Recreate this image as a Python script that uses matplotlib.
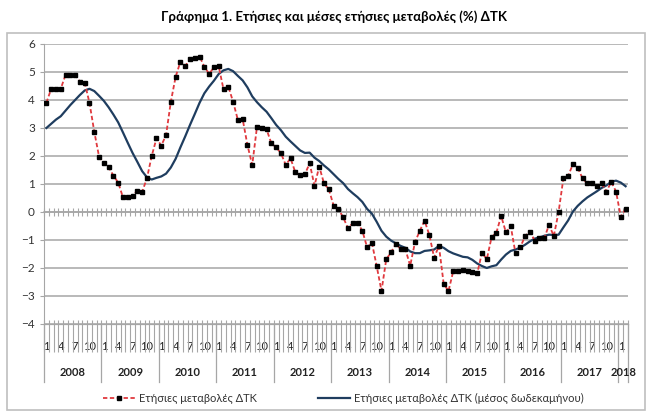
import numpy as np
import matplotlib
matplotlib.use("Agg")
import matplotlib.pyplot as plt
from matplotlib.patches import Rectangle
import matplotlib.transforms as mtransforms

plt.rcParams['font.family'] = ['Lato', 'DejaVu Sans']

# Data: monthly, Jan 2008 - Feb 2018
years = ['2008', '2009', '2010', '2011', '2012', '2013', '2014', '2015', '2016', '2017', '2018']
months_per_year = [12, 12, 12, 12, 12, 12, 12, 12, 12, 12, 2]
month_labels = ['1', '4', '7', '10']

annual_cpi = [
    3.9, 4.4, 4.4, 4.4, 4.9, 4.9, 4.9, 4.65, 4.62, 3.9, 2.87, 1.98,
    1.76, 1.6, 1.3, 1.05, 0.52, 0.52, 0.58, 0.76, 0.72, 1.2, 2.0, 2.63,
    2.37, 2.75, 3.94, 4.83, 5.37, 5.21, 5.46, 5.5, 5.55, 5.19, 4.93, 5.17,
    5.2, 4.38, 4.48, 3.94, 3.29, 3.32, 2.39, 1.68, 3.05, 3.0, 2.95, 2.45,
    2.31, 2.1, 1.68, 1.92, 1.42, 1.32, 1.35, 1.74, 0.94, 1.62, 1.02, 0.81,
    0.23, 0.1, -0.19, -0.58, -0.4, -0.38, -0.67, -1.26, -1.10, -1.93, -2.82, -1.69,
    -1.44, -1.14, -1.32, -1.33, -1.92, -1.08, -0.67, -0.31, -0.82, -1.63, -1.21, -2.57,
    -2.82, -2.11, -2.10, -2.07, -2.12, -2.13, -2.19, -1.45, -1.69, -0.90, -0.74, -0.14,
    -0.73, -0.50, -1.48, -1.26, -0.86, -0.70, -1.02, -0.94, -0.94, -0.46, -0.86, 0.0,
    1.20, 1.29, 1.71, 1.58, 1.20, 1.02, 1.02, 0.93, 1.02, 0.73, 1.08, 0.73,
    -0.17, 0.11,
]

avg_cpi = [
    3.00, 3.15, 3.30, 3.42, 3.62, 3.82, 4.00, 4.18, 4.34, 4.40, 4.32, 4.15,
    3.97, 3.74, 3.48, 3.20, 2.84, 2.47, 2.11, 1.79, 1.46, 1.24, 1.16, 1.22,
    1.27, 1.37, 1.59, 1.90, 2.31, 2.70, 3.11, 3.50, 3.90, 4.24, 4.48, 4.69,
    4.93, 5.06, 5.11, 5.03, 4.86, 4.70, 4.45, 4.13, 3.92, 3.74, 3.58, 3.35,
    3.11, 2.92, 2.69, 2.52, 2.36, 2.20, 2.11, 2.12, 1.94, 1.82, 1.66, 1.52,
    1.35, 1.18, 1.03, 0.82, 0.67, 0.53, 0.36, 0.11, -0.06, -0.35, -0.67, -0.88,
    -1.02, -1.12, -1.21, -1.28, -1.41, -1.47, -1.47, -1.39, -1.37, -1.34, -1.21, -1.28,
    -1.40, -1.48, -1.54, -1.60, -1.62, -1.71, -1.84, -1.93, -2.00, -1.94, -1.90, -1.70,
    -1.52, -1.39, -1.34, -1.27, -1.17, -1.05, -0.95, -0.91, -0.85, -0.81, -0.82, -0.81,
    -0.55, -0.30, 0.02, 0.22, 0.38, 0.52, 0.63, 0.74, 0.86, 0.95, 1.08, 1.12,
    1.05, 0.92,
]

label1 = 'Ετήσιες μεταβολές ΔΤΚ'
label2 = 'Ετήσιες μεταβολές ΔΤΚ (μέσος δωδεκαμήνου)'
title = 'Γράφημα 1. Ετήσιες και μέσες ετήσιες μεταβολές (%) ΔΤΚ'

grid_c = '#a6a6a6'
n = len(annual_cpi)
x = np.arange(n)

fig = plt.figure(figsize=(6.5, 4.15), dpi=100)
ax = fig.add_axes([44 / 650, 91 / 415, 584 / 650, 280 / 415])

l2, = ax.plot(x, avg_cpi, color='#1f3d5f', lw=1.6, label=label2, zorder=3)
l1, = ax.plot(x, annual_cpi, color='#e0393e', lw=1.3, dashes=(2.4, 1.4),
              marker='s', ms=2.2, mfc='black', mec='black', label=label1, zorder=4)

ax.set_xlim(-0.5, n - 0.5)
ax.set_ylim(-4, 6)
ax.set_yticks(range(-4, 7))
ax.yaxis.grid(True, color=grid_c, lw=1.1)
ax.set_axisbelow(True)
for s in ['top', 'right']:
    ax.spines[s].set_visible(False)
ax.spines['left'].set_color(grid_c)
ax.spines['bottom'].set_color(grid_c)
ax.tick_params(axis='y', colors='#333333', labelsize=8.5, length=3, width=0.8)
ax.tick_params(axis='y', color=grid_c)

# month labels (1, 4, 7, 10) and boundary ticks
starts = np.concatenate([[0], np.cumsum(months_per_year)[:-1]])
lab_pos, lab_txt = [], []
for s0, m in zip(starts, months_per_year):
    for k in range(m):
        if str(k + 1) in month_labels:
            lab_pos.append(s0 + k)
            lab_txt.append(str(k + 1))
ax.set_xticks(lab_pos)
ax.set_xticklabels(lab_txt)
ax.set_xticks(np.arange(-0.5, n, 1.0), minor=True)
ax.tick_params(axis='x', which='major', length=0, pad=12, labelsize=8, colors='#222222')
ax.tick_params(axis='x', which='minor', direction='out', length=20, width=0.8, color=grid_c)

# small inward ticks at the bottom line
bot = ax.secondary_xaxis(0.0)
bot.set_xticks(np.arange(-0.5, n, 1.0))
bot.tick_params(direction='in', length=3, width=0.8, color=grid_c, labelbottom=False)
bot.spines['bottom'].set_color(grid_c)

# zero line with crossing ticks
zero = ax.secondary_xaxis(0.4)
zero.set_xticks(np.arange(-0.5, n, 1.0))
zero.tick_params(direction='inout', length=6, width=0.8, color=grid_c, labelbottom=False)
zero.spines['bottom'].set_color(grid_c)
zero.spines['bottom'].set_linewidth(1.1)

# year labels and dividers
trans = mtransforms.blended_transform_factory(ax.transData, ax.transAxes)
edges = np.concatenate([starts, [n]]) - 0.5
for b in edges:
    ax.plot([b, b], [0, -0.207], transform=trans, color=grid_c, lw=0.9, clip_on=False)
for yr, s0, m in zip(years, starts, months_per_year):
    ax.text(s0 + (m - 1) / 2, -0.172, yr, transform=trans, ha='center', va='center',
            fontsize=8, fontweight='bold', color='#222222')

fig.legend(handles=[l1, l2], loc='center', bbox_to_anchor=(0.528, 0.041), ncol=2,
           frameon=False, fontsize=8, handlelength=2.9, handletextpad=0.35,
           columnspacing=5.5, labelcolor='#333333')

fig.text(0.514, 0.961, title, ha='center', va='center', fontsize=9.5, fontweight='bold')
fig.patches.append(Rectangle((7 / 650, 5 / 415), 638 / 650, 377 / 415, transform=fig.transFigure,
                             fill=False, edgecolor='#bfbfbf', lw=1.2))

fig.savefig('out.png', dpi=100)
